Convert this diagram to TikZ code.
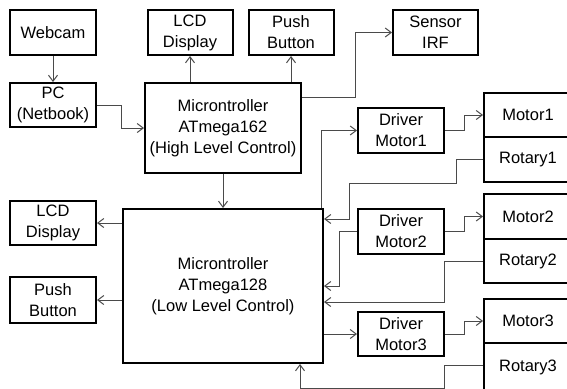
\documentclass[tikz,border=0pt]{standalone}
\usepackage{fontspec}
\setmainfont{Liberation Sans}
\usetikzlibrary{arrows.meta}
\definecolor{ink}{HTML}{000000}
\definecolor{wire}{HTML}{4A4A4A}
\tikzset{
  every node/.style={font=\fontsize{16.5}{21}\selectfont},
  box/.style={draw=ink, line width=2pt, fill=white, align=center, inner sep=0pt, minimum width=86pt, minimum height=45pt},
  bigbox/.style={box, minimum width=156pt, minimum height=90pt},
  partbox/.style={box, minimum width=88pt, minimum height=44pt},
  conn/.style={-{Straight Barb[length=6pt,width=9pt]}, line width=1pt, draw=wire},
}
\begin{document}
\begin{tikzpicture}[x=1pt,y=-1pt]
\useasboundingbox (0,0) rectangle (567,388);
\clip (0,0) rectangle (567,388);
% top row
\node[box] (cam) at (53,32.5) {Webcam};
\node[box, minimum height=44pt] (pc) at (53,105) {PC\\(Netbook)};
\node[box, minimum width=85pt] (lcd1) at (190,32.5) {LCD\\Display};
\node[box, minimum width=85pt] (push1) at (291,32.5) {Push\\Button};
\node[box, minimum width=85pt] (irf) at (435.5,32.5) {Sensor\\IRF};
\node[bigbox] (hl) at (223,128) {Microntroller\\ATmega162\\(High Level Control)};
% low level side
\node[bigbox, minimum width=200pt, minimum height=154pt] (ll) at (223,286) {Microntroller\\ATmega128\\(Low Level Control)};
\node[box, minimum height=44pt] (lcd2) at (53,223) {LCD\\Display};
\node[box, minimum height=46pt] (push2) at (53,300) {Push\\Button};
% drivers and motors
\node[box] (drv1) at (401,130.5) {Driver\\Motor1};
\node[box] (drv2) at (401,231.5) {Driver\\Motor2};
\node[box, minimum height=44pt] (drv3) at (401,334) {Driver\\Motor3};
\node[partbox] (m1) at (528,115) {Motor1};
\node[partbox, minimum height=45pt] (r1) at (528,159.5) {Rotary1};
\node[partbox, minimum height=45pt] (m2) at (528,216.5) {Motor2};
\node[partbox] (r2) at (528,261) {Rotary2};
\node[partbox] (m3) at (528,321) {Motor3};
\node[partbox, minimum height=48pt] (r3) at (528,367) {Rotary3};
\draw[conn](cam)--(pc);\draw[conn](pc.east)--++(24,0)|-(hl.west);\draw[conn](hl.north-|lcd1.south)--(lcd1.south);\draw[conn](hl.north-|push1.south)--(push1.south);\draw[conn]([yshift=-15pt]hl.north east)--++(53,0)|-(irf.west);\draw[conn](hl)--(ll);
\draw[conn](ll.west|-lcd2)--(lcd2);\draw[conn](ll.west|-push2)--(push2);
\draw[conn]([xshift=-3pt]ll.north east)|-(drv1.west);\draw[conn](drv1.east)--++(19,0)|-(m1.west);\draw[conn](r1.west)--++(-27,0)|-++(-107,24)|-([yshift=-11pt]ll.north east);
\draw[conn](drv2.west)--++(-18,0)|-(ll.east);\draw[conn](drv2.east)--++(19,0)|-(m2.west);\draw[conn](r2.west)--++(-39,0)|-([yshift=-16pt]ll.east);
\draw[conn](ll.east|-drv3)--(drv3);\draw[conn](drv3.east)--++(19,0)|-(m3.west);\draw[conn]([yshift=2pt]r3.west)--++(-39,0)|-([xshift=77pt,yshift=-24pt]ll.south)--([xshift=77pt]ll.south);
\end{tikzpicture}
\end{document}
